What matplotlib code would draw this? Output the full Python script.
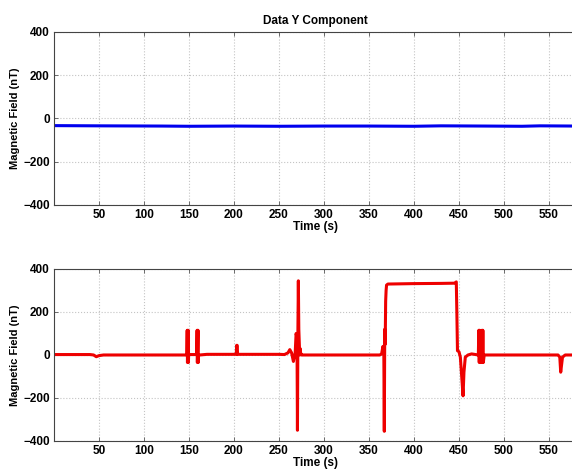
import numpy as np
import matplotlib
matplotlib.use("Agg")
import matplotlib.pyplot as plt

plt.rcParams['font.family'] = ['Liberation Sans', 'DejaVu Sans']
plt.rcParams['font.weight'] = 'bold'

# top panel: Y component (blue), nearly constant
t_y = [0, 50, 120, 150, 200, 250, 300, 350, 400, 430, 480, 520, 540, 580]
b_y = [-33, -34, -35, -36, -35, -36, -35, -35, -36, -34, -35, -36, -34, -35]

# bottom panel (red)
t_r = [0, 40, 44, 47, 50, 55, 147.5, 148, 148.3, 149, 149.3, 149.6, 150.5, 158.5, 159, 159.3, 160, 160.3, 160.6, 162,
       170, 202.5, 203, 203.5, 204, 250, 256, 260, 262, 264, 266, 268, 269, 270, 270.5, 271, 271.5, 272, 273, 273.5, 274,
       275, 277, 280, 362, 364, 365.5, 366.5, 367, 367.5, 368, 368.5, 369, 369.5, 371, 400, 430, 445, 447, 447.6, 448.3,
       450, 451.5, 453, 454.5, 455.5, 457, 460, 464, 471.5, 472, 472.5, 473, 474, 475, 475.5, 476, 476.5, 477, 478, 555,
       560, 562, 563, 565, 568, 580]
v_r = [2, 2, 0, -8, -3, 0, 0, 115, -35, 115, -35, 0, 2, 2, 115, -35, 115, -35, 0, 0,
       3, 3, 45, 45, 3, 3, 2, 10, 25, 10, -30, 10, 100, 80, -350, 110, 345, 120, 0, 30, 10,
       0, 0, 0, 0, 5, 40, 0, -355, 120, 50, 250, 300, 325, 330, 332, 333, 334, 340, 200, 20,
       15, -10, -100, -190, -80, -10, 0, 5, 0, 115, -35, 115, -35, 0, 115, -35, 115, -35, 0, 0,
       0, -10, -80, -10, 0, 0]

xticks = [50, 100, 150, 200, 250, 300, 350, 400, 450, 500, 550]
yticks = [-400, -200, 0, 200, 400]

fig = plt.figure(figsize=(5.72, 4.73), dpi=100)
ax1 = fig.add_axes([0.0944, 0.5666, 0.9126, 0.3658])
ax2 = fig.add_axes([0.0944, 0.0677, 0.9126, 0.3636])

for ax, t, v, c in [(ax1, t_y, b_y, '#0000ee'), (ax2, t_r, v_r, '#ee0000')]:
    ax.plot(t, v, color=c, lw=2.2)
    ax.set_xlim(0, 580)
    ax.set_ylim(-400, 400)
    ax.set_xticks(xticks)
    ax.set_yticks(yticks)
    ax.grid(True, ls=':', color='#c4c4c4', lw=0.8)
    ax.tick_params(direction='in', top=True, right=True, length=3, labelsize=8.5, width=0.6,
                   color='#555555', pad=3)
    for lbl in ax.get_xticklabels() + ax.get_yticklabels():
        lbl.set_fontweight('bold')
    for s in ax.spines.values():
        s.set_color('#444444')
        s.set_linewidth(0.8)
    ax.set_xlabel('Time (s)', fontsize=8.5, fontweight='bold', labelpad=0)
    ax.set_ylabel('Magnetic Field (nT)', fontsize=8, fontweight='bold', labelpad=2)

ax1.set_title('Data Y Component', fontsize=8.5, fontweight='bold', pad=6)

fig.savefig('out.png', dpi=100)
